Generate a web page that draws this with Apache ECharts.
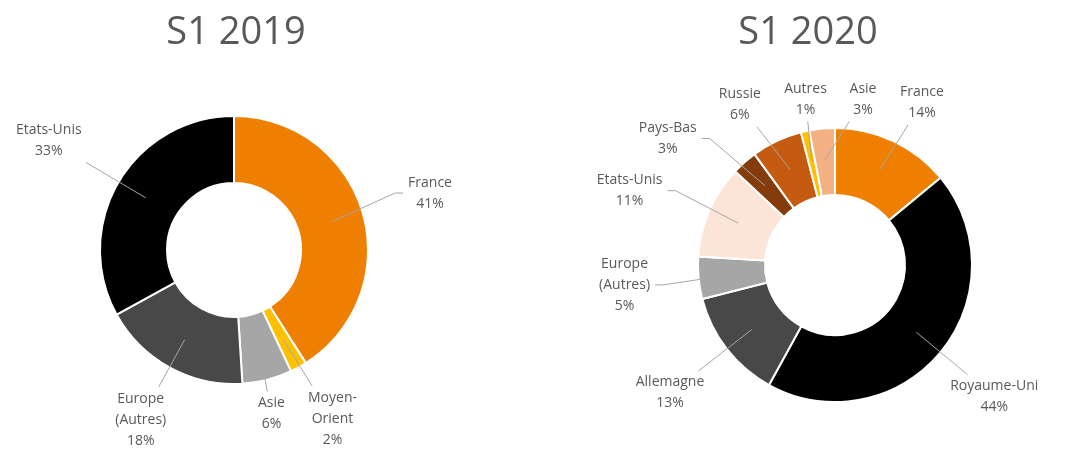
<!DOCTYPE html>
<html>
<head>
<meta charset="utf-8">
<script src="https://cdn.jsdelivr.net/npm/echarts@6/dist/echarts.min.js"></script>
<style>
  html, body { margin: 0; padding: 0; background: #fff; }
  #chart { width: 1085px; height: 449px; }
</style>
</head>
<body>
<div id="chart"></div>
<script>
// S1 2019
const names2019 = ['France', 'Moyen-\nOrient', 'Asie', 'Europe\n(Autres)', 'Etats-Unis'];
const values2019 = [41, 2, 6, 18, 33];
const colors2019 = ['#EF7F00', '#FFC000', '#A6A6A6', '#484848', '#000000'];

// S1 2020
const names2020 = ['France', 'Royaume-Uni', 'Allemagne', 'Europe\n(Autres)', 'Etats-Unis',
  'Pays-Bas', 'Russie', 'Autres', 'Asie'];
const values2020 = [14, 44, 13, 5, 11, 3, 6, 1, 3];
const colors2020 = ['#EF7F00', '#000000', '#484848', '#A6A6A6', '#FCE4D6',
  '#843C0C', '#C55A11', '#FFC000', '#F4B183'];

const textColor = '#595959';
const lineColor = '#A6A6A6';
const font = '"Open Sans", "Noto Sans", sans-serif';
const fontSize = 14;
const lineH = 21;

// pie geometry
const pie2019 = { center: [234, 250], radius: [67, 134] };
const pie2020 = { center: [835, 265], radius: [70, 137] };

// measure label text
const ctx = document.createElement('canvas').getContext('2d');
ctx.font = fontSize + 'px ' + font;

function labelText(name, value) {
  return name + '\n' + value + '%';
}

// excel-like "best fit" label placement around the ring
function layoutLabels(names, values, pie) {
  const total = values.reduce((a, b) => a + b, 0);
  const cx = pie.center[0], cy = pie.center[1];
  const rIn = pie.radius[0], rOut = pie.radius[1];
  let acc = 0;
  const items = names.map((n, i) => {
    const mid = (acc + values[i] / 2) / total * 360;
    acc += values[i];
    const lines = labelText(n, values[i]).split('\n');
    const w = Math.max.apply(null, lines.map(l => ctx.measureText(l).width));
    return { mid: mid, angle: mid, hw: w / 2 + 2, hh: lines.length * lineH / 2 };
  });

  function place(it) {
    const a = it.angle * Math.PI / 180;
    const dx = Math.sin(a), dy = -Math.cos(a);
    const t = Math.min(Math.abs(dx) > 1e-6 ? it.hw / Math.abs(dx) : 1e9,
      Math.abs(dy) > 1e-6 ? it.hh / Math.abs(dy) : 1e9);
    const gap = 2 + 45 * Math.abs(dx);
    const r = rOut + gap + t;
    it.x = cx + dx * r;
    it.y = cy + dy * r;
  }

  function overlap(a, b) {
    return Math.abs(a.x - b.x) < a.hw + b.hw + 18 && Math.abs(a.y - b.y) < a.hh + b.hh + 8;
  }

  items.forEach(place);
  for (let k = 0; k < 800; k++) {
    let moved = false;
    for (let i = 0; i < items.length; i++) {
      const a = items[i], b = items[(i + 1) % items.length];
      if (overlap(a, b)) {
        a.angle -= 0.5;
        b.angle += 0.5;
        place(a);
        place(b);
        moved = true;
      }
    }
    if (!moved) break;
  }

  // leader lines: from mid ring of slice to label edge
  items.forEach(it => {
    const a = it.mid * Math.PI / 180;
    const rm = (rIn + rOut) / 2 + 2;
    const sx = cx + Math.sin(a) * rm, sy = cy - Math.cos(a) * rm;
    const vx = sx - it.x, vy = sy - it.y;
    const bw = it.hw + 3, bh = it.hh + 1;
    const tx = Math.abs(vx) > 1e-6 ? bw / Math.abs(vx) : 1e9;
    const ty = Math.abs(vy) > 1e-6 ? bh / Math.abs(vy) : 1e9;
    if (tx <= ty) {
      const ex = it.x + Math.sign(vx) * bw;
      const ey = it.y;
      it.points = [[sx, sy], [ex + Math.sign(vx) * 8, ey], [ex, ey]];
    } else {
      it.points = [[sx, sy], [it.x + vx * ty, it.y + vy * ty]];
    }
  });
  return items;
}

const layouts = [
  layoutLabels(names2019, values2019, pie2019),
  layoutLabels(names2020, values2020, pie2020)
];

function pieData(names, values, colors) {
  return names.map((n, i) => ({
    name: n,
    value: values[i],
    itemStyle: { color: colors[i] }
  }));
}

function donut(pie, names, values, colors) {
  return {
    type: 'pie',
    center: pie.center,
    radius: pie.radius,
    startAngle: 90,
    clockwise: true,
    avoidLabelOverlap: false,
    data: pieData(names, values, colors),
    itemStyle: { borderColor: '#fff', borderWidth: 2 },
    label: {
      show: true,
      position: 'outside',
      formatter: p => labelText(p.name, p.value),
      color: textColor,
      fontFamily: font,
      fontSize: fontSize,
      lineHeight: lineH,
      align: 'center'
    },
    labelLine: { show: false },
    labelLayout: function (params) {
      const it = layouts[params.seriesIndex][params.dataIndex];
      return { x: it.x, y: it.y, align: 'center', verticalAlign: 'middle' };
    },
    emphasis: { disabled: true },
    z: 2
  };
}

// leader lines drawn on top of the slices
const leaderLines = [];
layouts.forEach(items => items.forEach(it => {
  leaderLines.push({
    type: 'polyline',
    shape: { points: it.points },
    style: { stroke: lineColor, lineWidth: 1, fill: null },
    silent: true,
    z: 10
  });
}));

const chart = echarts.init(document.getElementById('chart'));
chart.setOption({
  animation: false,
  title: [
    {
      text: 'S1 2019',
      left: 231,
      top: 9,
      textAlign: 'center',
      textStyle: { color: textColor, fontFamily: font, fontSize: 38, fontWeight: 'normal' }
    },
    {
      text: 'S1 2020',
      left: 803,
      top: 9,
      textAlign: 'center',
      textStyle: { color: textColor, fontFamily: font, fontSize: 38, fontWeight: 'normal' }
    }
  ],
  graphic: { elements: leaderLines },
  series: [
    donut(pie2019, names2019, values2019, colors2019),
    donut(pie2020, names2020, values2020, colors2020)
  ]
});
</script>
</body>
</html>
